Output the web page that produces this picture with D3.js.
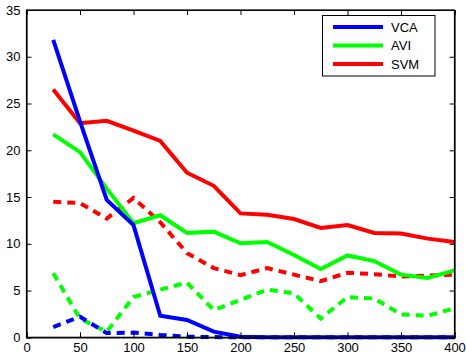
<!DOCTYPE html>
<html><head><meta charset="utf-8">
<script src="https://cdn.jsdelivr.net/npm/d3@7"></script>
<style>body{margin:0;background:#fff}svg{display:block}</style>
</head><body><svg id="c" width="466" height="356"></svg>
<script>
const xs = [25,50,75,100,125,150,175,200,225,250,275,300,325,350,375,400];
const vcaSolid = [31.8,23.1,14.7,12.0,2.3,1.85,0.6,0.07,0,0,0,0,0,0,0,0];
const vcaDash  = [1.1,2.2,0.45,0.5,0.25,0.07,0.02,0,0,0,0,0,0,0,0,0];
const aviSolid = [21.7,19.8,15.9,12.2,13.05,11.15,11.3,10.05,10.2,8.8,7.3,8.75,8.15,6.7,6.35,7.15];
const aviDash  = [6.85,2.0,0.6,4.3,5.1,5.85,2.9,4.0,5.1,4.7,2.0,4.3,4.15,2.45,2.3,3.1];
const svmSolid = [26.5,22.9,23.15,22.1,21.0,17.6,16.2,13.25,13.1,12.65,11.7,12.0,11.15,11.1,10.55,10.2];
const svmDash  = [14.5,14.35,12.7,14.9,12.3,9.0,7.4,6.65,7.4,6.7,6.0,6.9,6.75,6.5,6.6,6.7];
const xTicks = [0,50,100,150,200,250,300,350,400];
const yTicks = [0,5,10,15,20,25,30,35];
const legendNames = ["VCA","AVI","SVM"];
const colors = ["#0000ff","#00ff00","#ff0000"];

const svg = d3.select("#c");
const L=26.5, R=454.5, T=10, B=337.3;
const x = d3.scaleLinear().domain([0,400]).range([L,R]);
const y = d3.scaleLinear().domain([0,35]).range([B,T]);
const font = "'Liberation Sans', Arial, sans-serif";

const series = [
  {v:svmDash,c:2,d:true},{v:aviDash,c:1,d:true},{v:vcaDash,c:0,d:true},
  {v:svmSolid,c:2,d:false},{v:aviSolid,c:1,d:false},{v:vcaSolid,c:0,d:false}
];
const line = d3.line().x((d,i)=>x(xs[i])).y(d=>y(d));
const g = svg.append("g");
series.forEach(s=>{
  g.append("path").attr("d",line(s.v)).attr("fill","none")
   .attr("stroke",colors[s.c]).attr("stroke-width",4)
   .attr("stroke-dasharray",s.d?"8,6":null);
});

// axes
const ax = svg.append("g").attr("font-family",font).attr("font-size",13);
ax.append("g").attr("transform",`translate(0,${B})`).call(d3.axisBottom(x).tickValues(xTicks).tickSize(-5).tickPadding(5).tickFormat(d3.format("d")));
ax.append("g").attr("transform",`translate(0,${T})`).call(d3.axisTop(x).tickValues(xTicks).tickSize(-5).tickFormat(""));
ax.append("g").attr("transform",`translate(${L},0)`).call(d3.axisLeft(y).tickValues(yTicks).tickSize(-5).tickPadding(6).tickFormat(d3.format("d")));
ax.append("g").attr("transform",`translate(${R},0)`).call(d3.axisRight(y).tickValues(yTicks).tickSize(-5).tickFormat(""));
ax.selectAll(".domain").attr("stroke","#000").attr("stroke-width",1.2);
ax.selectAll(".tick line").attr("stroke","#000");
ax.selectAll(".tick text").attr("fill","#000").attr("font-family",font).attr("font-size",13);
svg.append("rect").attr("x",L).attr("y",T).attr("width",R-L).attr("height",B-T).attr("fill","none").attr("stroke","#000").attr("stroke-width",1.2);

// legend
const lg = svg.append("g");
lg.append("rect").attr("x",322.5).attr("y",15.5).attr("width",112.5).attr("height",60.5).attr("fill","#fff").attr("stroke","#000").attr("stroke-width",1);
legendNames.forEach((n,i)=>{
  const yy = 27 + i*18.5;
  lg.append("line").attr("x1",333).attr("x2",383).attr("y1",yy).attr("y2",yy).attr("stroke",colors[i]).attr("stroke-width",4);
  lg.append("text").attr("x",391).attr("y",yy+4.5).attr("font-family",font).attr("font-size",13).attr("fill","#000").text(n);
});
</script></body></html>
